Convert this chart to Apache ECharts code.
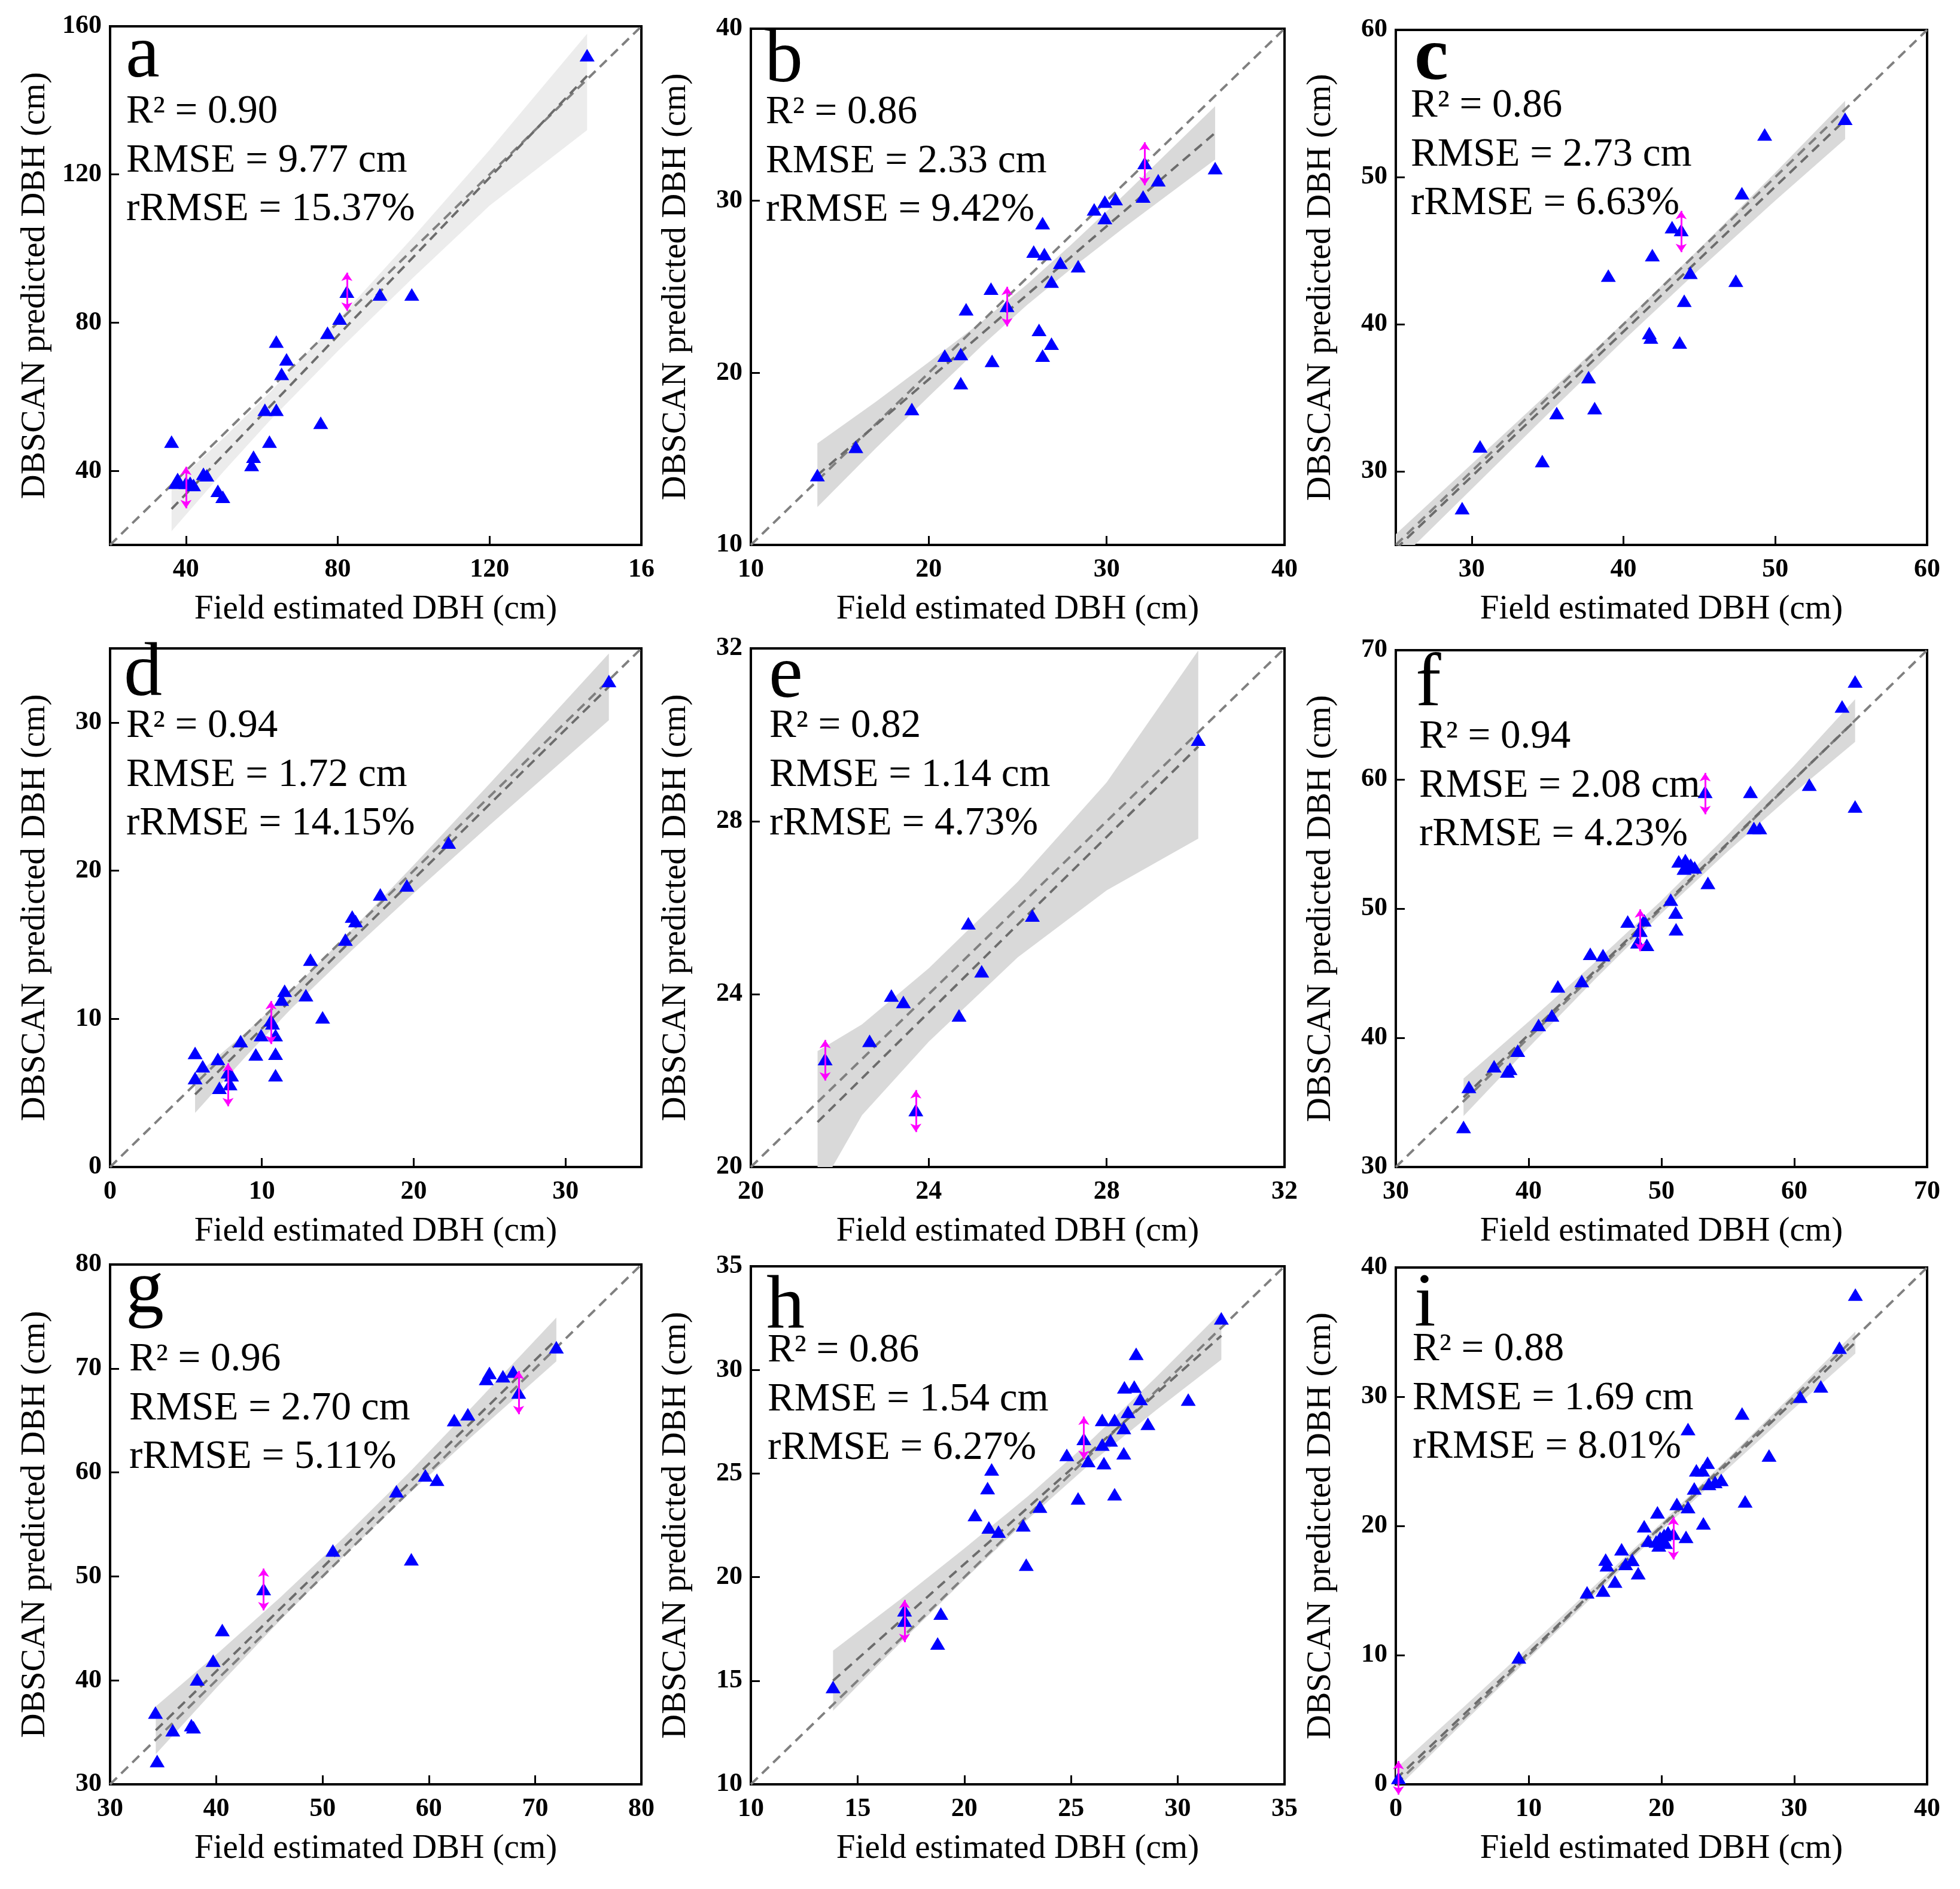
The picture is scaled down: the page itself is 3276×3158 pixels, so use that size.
<!DOCTYPE html>
<html><head><meta charset="utf-8">
<script src="https://cdn.jsdelivr.net/npm/echarts@6/dist/echarts.min.js"></script>
<style>html,body{margin:0;padding:0;background:#fff}#c{width:3276px;height:3158px}</style>
</head><body><div id="c"></div>
<script>
// ---------------- DATA ----------------
// panel a
const aRange = [20, 160], aTicks = [40, 80, 120, 160];
const aX = [145.7, 82.4, 91.1, 99.5, 80.5, 77.3, 63.8, 66.5, 65.2, 60.8, 63.8, 75.5, 36.2, 62.0, 57.8, 57.3, 44.6, 45.5, 37.8, 37.3, 40.0, 41.1, 42.0, 48.4, 49.7];
const aY = [152.2, 88.4, 87.6, 87.6, 81.1, 77.3, 74.9, 70.1, 66.2, 56.5, 56.5, 53.0, 47.9, 47.9, 43.8, 41.6, 39.2, 38.8, 37.8, 36.8, 36.8, 36.8, 36.2, 34.6, 33.0];
const aArrows = [[40.0, 41.1, 29.9], [82.4, 93.5, 83.2]];
const aBandX = [36.2, 50, 62, 80, 100, 120, 145.7];
const aBandLo = [23.7, 39.95, 53.45, 72.3, 92.3, 111.6, 132.0];
const aBandHi = [35.7, 48.95, 61.05, 80.7, 103.3, 126.6, 158.0];
const aFit = [[36.2, 29.7], [145.7, 146.6]];
const aStats = ['R\u00b2 = 0.90', 'RMSE = 9.77 cm', 'rRMSE = 15.37%'];
// panel b
const bRange = [10, 40], bTicks = [10, 20, 30, 40];
const bX = [13.74, 15.9, 19.05, 21.8, 20.9, 21.8, 22.1, 23.56, 23.5, 24.4, 26.2, 26.9, 26.4, 26.4, 25.9, 26.5, 27.4, 26.9, 28.4, 29.3, 29.9, 30.5, 29.9, 32.05, 32.14, 32.9, 36.1];
const bY = [14.06, 15.7, 17.9, 19.4, 21.0, 21.1, 23.7, 20.7, 24.9, 23.9, 22.5, 21.7, 21.0, 28.7, 27.05, 26.9, 26.4, 25.3, 26.2, 29.5, 29.95, 30.1, 29.0, 30.25, 32.2, 31.2, 31.9];
const bArrows = [[24.4, 25.0, 22.7], [32.14, 33.4, 30.9]];
const bBandX = [13.74, 17, 20, 23, 25.5, 28, 31, 36.1];
const bBandLo = [12.2, 15.6, 18.62, 21.59, 23.92, 26.04, 28.46, 32.4];
const bBandHi = [15.9, 18.3, 20.62, 22.99, 25.12, 27.44, 30.36, 35.5];
const bFit = [[13.74, 14.05], [36.1, 33.95]];
const bStats = ['R\u00b2 = 0.86', 'RMSE = 2.33 cm', 'rRMSE = 9.42%'];
// panel c
const cRange = [25, 60], cTicks = [30, 40, 50, 60];
const cX = [29.37, 30.55, 34.65, 35.6, 38.1, 37.7, 39.0, 41.7, 41.8, 41.9, 43.2, 43.8, 44.4, 44.0, 43.7, 47.4, 47.8, 49.3, 54.6];
const cY = [27.5, 31.7, 30.7, 33.96, 34.3, 36.4, 43.3, 39.4, 39.1, 44.7, 46.6, 46.4, 43.5, 41.6, 38.76, 42.96, 48.9, 52.9, 53.96];
const cArrows = [[43.8, 47.7, 44.9]];
const cBandX = [25, 30, 35, 40, 45, 50, 54.6];
const cBandLo = [23.73, 28.8, 33.88, 38.9, 43.73, 48.4, 52.58];
const cBandHi = [25.73, 30.5, 35.28, 40.1, 45.13, 50.3, 55.18];
const cFit = [[25, 24.73], [54.6, 53.88]];
const cStats = ['R\u00b2 = 0.86', 'RMSE = 2.73 cm', 'rRMSE = 6.63%'];
// panel d
const dRange = [0, 35], dTicks = [0, 10, 20, 30];
const dX = [32.86, 22.3, 19.55, 17.8, 15.95, 16.17, 15.5, 13.2, 12.9, 14.0, 11.5, 11.3, 10.7, 9.95, 10.9, 10.6, 8.6, 9.6, 10.9, 10.9, 5.6, 6.1, 5.6, 7.1, 7.2, 8.0, 7.9, 7.77];
const dY = [32.8, 21.9, 19.0, 18.4, 16.9, 16.6, 15.35, 14.0, 11.6, 10.1, 11.9, 11.3, 9.7, 8.9, 8.9, 9.9, 8.5, 7.6, 7.65, 6.2, 7.7, 6.8, 6.0, 7.3, 5.35, 6.2, 5.6, 6.4];
const dArrows = [[10.6, 11.2, 8.3], [7.77, 7.0, 4.1]];
const dBandX = [5.6, 9, 12, 16, 20, 25, 32.86];
const dBandLo = [3.65, 7.53, 10.76, 14.69, 18.48, 23.07, 30.16];
const dBandHi = [6.15, 9.13, 11.96, 16.09, 20.38, 25.87, 34.66];
const dFit = [[5.6, 4.9], [32.86, 32.41]];
const dStats = ['R\u00b2 = 0.94', 'RMSE = 1.72 cm', 'rRMSE = 14.15%'];
// panel e
const eRange = [20, 32], eTicks = [20, 24, 28, 32];
const eX = [30.06, 26.33, 24.89, 25.19, 23.16, 23.43, 24.68, 22.67, 21.67, 23.71];
const eY = [29.89, 25.82, 25.64, 24.53, 23.97, 23.82, 23.51, 22.92, 22.5, 21.32];
const eArrows = [[21.67, 22.94, 22.0], [23.71, 21.78, 20.81]];
const eBandX = [21.5, 22.5, 24, 26, 28, 30.06];
const eBandLo = [19.4, 21.2, 22.9, 24.85, 26.4, 27.6];
const eBandHi = [22.68, 23.3, 24.6, 26.6, 28.9, 31.95];
const eFit = [[21.5, 21.04], [30.06, 29.73]];
const eStats = ['R\u00b2 = 0.82', 'RMSE = 1.14 cm', 'rRMSE = 4.73%'];
// panel f
const fRange = [30, 70], fTicks = [30, 40, 50, 60, 70];
const fX = [64.58, 63.6, 64.58, 61.13, 56.7, 53.29, 56.96, 57.4, 51.3, 51.8, 52.2, 51.7, 52.5, 53.5, 50.7, 51.07, 51.1, 47.46, 48.34, 48.7, 48.2, 48.9, 48.4, 44.64, 45.6, 44.0, 42.2, 41.75, 40.75, 39.18, 37.4, 38.6, 38.4, 35.5, 35.1];
const fY = [67.58, 65.65, 57.9, 59.6, 59.04, 59.04, 56.24, 56.24, 53.66, 53.76, 53.4, 53.1, 53.2, 51.99, 50.7, 49.7, 48.4, 49.0, 48.3, 49.1, 47.4, 47.2, 48.3, 46.5, 46.4, 44.4, 43.98, 41.74, 41.0, 39.0, 37.8, 37.6, 37.4, 36.2, 33.1];
const fArrows = [[53.29, 60.5, 57.3], [48.4, 49.94, 46.7]];
const fBandX = [35.1, 40, 45, 50, 55, 60, 64.58];
const fBandLo = [33.95, 39.25, 44.54, 49.63, 54.43, 58.97, 62.9];
const fBandHi = [36.85, 41.25, 45.84, 50.63, 55.73, 61.07, 66.2];
const fFit = [[35.1, 35.4], [64.58, 64.55]];
const fStats = ['R\u00b2 = 0.94', 'RMSE = 2.08 cm', 'rRMSE = 4.23%'];
// panel g
const gRange = [30, 80], gTicks = [30, 40, 50, 60, 70, 80];
const gX = [72.0, 65.7, 65.4, 66.97, 67.94, 68.45, 63.67, 62.39, 59.67, 60.76, 56.95, 50.97, 58.35, 44.45, 40.56, 39.7, 38.2, 37.65, 37.85, 35.9, 34.27, 34.43];
const gY = [72.05, 69.57, 69.0, 69.25, 69.7, 67.68, 65.6, 65.04, 59.72, 59.3, 58.2, 52.5, 51.65, 48.78, 44.84, 41.9, 40.1, 35.7, 35.5, 35.2, 36.9, 32.24];
const gArrows = [[68.45, 69.76, 65.6], [44.45, 50.75, 46.73]];
const gBandX = [34.3, 40, 46, 52, 58, 64, 72];
const gBandLo = [32.9, 39.28, 45.77, 51.95, 57.84, 63.42, 70.7];
const gBandHi = [37.5, 42.48, 47.97, 53.75, 59.84, 66.22, 74.9];
const gFit = [[34.3, 35.2], [72, 72.8]];
const gStats = ['R\u00b2 = 0.96', 'RMSE = 2.70 cm', 'rRMSE = 5.11%'];
// panel h
const hRange = [10, 35], hTicks = [10, 15, 20, 25, 30, 35];
const hX = [32.04, 28.05, 27.5, 27.96, 28.25, 30.49, 27.67, 26.46, 27.04, 27.47, 28.6, 26.46, 26.85, 25.6, 25.8, 24.8, 27.47, 26.54, 25.33, 27.04, 23.54, 21.28, 21.09, 20.5, 21.15, 21.6, 22.76, 22.9, 18.9, 18.75, 17.2, 17.2, 13.85];
const hY = [32.49, 30.78, 29.16, 29.2, 28.6, 28.57, 27.98, 27.59, 27.59, 27.2, 27.4, 26.4, 26.6, 26.67, 25.6, 25.9, 25.98, 25.5, 23.8, 24.0, 23.4, 25.2, 24.3, 23.0, 22.4, 22.2, 22.5, 20.6, 18.24, 16.8, 18.4, 17.9, 14.7];
const hArrows = [[25.6, 27.75, 25.7], [17.2, 18.9, 16.86]];
const hBandX = [13.85, 17, 20, 23, 26, 29, 32.04];
const hBandLo = [13.55, 16.83, 19.88, 22.82, 25.57, 28.07, 30.5];
const hBandHi = [16.45, 18.93, 21.38, 23.92, 26.67, 29.67, 32.8];
const hFit = [[13.85, 15.0], [32.04, 31.65]];
const hStats = ['R\u00b2 = 0.86', 'RMSE = 1.54 cm', 'rRMSE = 6.27%'];
// panel i
const iRange = [0, 40], iTicks = [0, 10, 20, 30, 40];
const iX = [34.6, 33.4, 32.0, 30.45, 26.07, 22.0, 28.1, 23.47, 22.63, 23.1, 22.47, 23.57, 24.5, 24.04, 26.3, 21.16, 22.0, 19.7, 23.16, 18.7, 20.9, 21.85, 19.0, 19.6, 19.9, 20.2, 20.5, 19.8, 20.3, 17.0, 15.8, 15.9, 17.8, 17.3, 18.25, 16.5, 14.4, 15.6, 9.26, 0.2];
const iY = [37.9, 33.8, 30.8, 30.0, 28.7, 27.5, 25.45, 24.9, 24.3, 24.3, 22.9, 23.25, 23.56, 23.4, 21.9, 21.7, 21.46, 21.05, 20.2, 19.98, 19.4, 19.16, 18.85, 18.8, 19.1, 19.3, 19.5, 18.5, 18.7, 18.2, 17.4, 16.96, 17.37, 17.06, 16.34, 15.7, 14.86, 15.0, 9.83, 0.5];
const iArrows = [[20.9, 20.7, 17.4], [0.2, 1.8, -0.8]];
const iBandX = [0, 5, 10, 15, 20, 25, 30, 34.6];
const iBandLo = [-0.4, 4.68, 9.72, 14.7, 19.64, 24.42, 29.11, 33.35];
const iBandHi = [1.2, 5.88, 10.62, 15.4, 20.24, 25.22, 30.31, 35.05];
const iFit = [[0, 0.4], [34.6, 34.2]];
const iStats = ['R\u00b2 = 0.88', 'RMSE = 1.69 cm', 'rRMSE = 8.01%'];

const panelLetters = ['a', 'b', 'c', 'd', 'e', 'f', 'g', 'h', 'i'];
const xAxisTitle = 'Field estimated DBH (cm)';
const yAxisTitle = 'DBSCAN predicted DBH (cm)';

const panels = [
  {range: aRange, ticks: aTicks, x: aX, y: aY, arrows: aArrows, bx: aBandX, lo: aBandLo, hi: aBandHi, fit: aFit, stats: aStats},
  {range: bRange, ticks: bTicks, x: bX, y: bY, arrows: bArrows, bx: bBandX, lo: bBandLo, hi: bBandHi, fit: bFit, stats: bStats},
  {range: cRange, ticks: cTicks, x: cX, y: cY, arrows: cArrows, bx: cBandX, lo: cBandLo, hi: cBandHi, fit: cFit, stats: cStats},
  {range: dRange, ticks: dTicks, x: dX, y: dY, arrows: dArrows, bx: dBandX, lo: dBandLo, hi: dBandHi, fit: dFit, stats: dStats},
  {range: eRange, ticks: eTicks, x: eX, y: eY, arrows: eArrows, bx: eBandX, lo: eBandLo, hi: eBandHi, fit: eFit, stats: eStats},
  {range: fRange, ticks: fTicks, x: fX, y: fY, arrows: fArrows, bx: fBandX, lo: fBandLo, hi: fBandHi, fit: fFit, stats: fStats},
  {range: gRange, ticks: gTicks, x: gX, y: gY, arrows: gArrows, bx: gBandX, lo: gBandLo, hi: gBandHi, fit: gFit, stats: gStats},
  {range: hRange, ticks: hTicks, x: hX, y: hY, arrows: hArrows, bx: hBandX, lo: hBandLo, hi: hBandHi, fit: hFit, stats: hStats},
  {range: iRange, ticks: iTicks, x: iX, y: iY, arrows: iArrows, bx: iBandX, lo: iBandLo, hi: iBandHi, fit: iFit, stats: iStats}
];

// ---------------- LAYOUT (pixels) ----------------
const layout = [
  {grid: [184, 44, 888, 867],   letter: [210, 133],   stat: [211, 208],   band: '#ececec', bold: false},
  {grid: [1255, 48, 892, 863],  letter: [1278, 141],  stat: [1280, 209],  band: '#d9d9d9', bold: false},
  {grid: [2333, 50, 888, 861],  letter: [2364, 138],  stat: [2358, 198],  band: '#d9d9d9', bold: true},
  {grid: [184, 1084, 888, 867], letter: [207, 1167],  stat: [211, 1235],  band: '#d9d9d9', bold: false},
  {grid: [1255, 1084, 892, 867],letter: [1285, 1170], stat: [1286, 1235], band: '#d9d9d9', bold: false},
  {grid: [2333, 1087, 888, 864],letter: [2366, 1184], stat: [2372, 1253], band: '#d9d9d9', bold: false},
  {grid: [184, 2114, 888, 869], letter: [210, 2199],  stat: [216, 2294],  band: '#d9d9d9', bold: false},
  {grid: [1255, 2117, 892, 866],letter: [1281, 2225], stat: [1283, 2279], band: '#d9d9d9', bold: false},
  {grid: [2333, 2119, 888, 864],letter: [2364, 2221], stat: [2361, 2277], band: '#dcdcdc', bold: false}
];
const SERIF = '"Liberation Serif", "Times New Roman", serif';
const MID = 0.305; // baseline offset from 'middle' alignment, in em

const option = {animation: false, backgroundColor: '#fff', grid: [], xAxis: [], yAxis: [], series: [], graphic: []};

panels.forEach((p, i) => {
  const L = layout[i];
  option.grid.push({left: L.grid[0], top: L.grid[1], width: L.grid[2], height: L.grid[3],
    show: true, borderColor: '#000', borderWidth: 4, backgroundColor: 'transparent',
    containLabel: false, outerBoundsMode: 'none'});
  const mkAxis = (isX) => ({
    type: 'value', gridIndex: i, min: p.range[0], max: p.range[1],
    axisLine: {show: true, onZero: false, lineStyle: {color: '#000', width: 4}},
    axisTick: {show: true, inside: true, length: 15, customValues: p.ticks, lineStyle: {color: '#000', width: 3}},
    axisLabel: {show: true, customValues: p.ticks, fontFamily: SERIF, fontWeight: 'bold', fontSize: 44, color: '#000',
      margin: isX ? 20 : 14, showMinLabel: true, showMaxLabel: true, hideOverlap: false,
      formatter: (v) => (isX && i === 0 && v === 160) ? '16' : String(v)},
    splitLine: {show: false},
    name: isX ? xAxisTitle : yAxisTitle, nameLocation: 'middle', nameGap: isX ? 80 : 96, nameMoveOverlap: false,
    nameTextStyle: {fontFamily: SERIF, fontSize: 57, color: '#000'}
  });
  option.xAxis.push(mkAxis(true));
  option.yAxis.push(mkAxis(false));

  // confidence band
  const bandData = p.bx.map((x, k) => [x, p.lo[k], p.hi[k]]);
  option.series.push({
    type: 'custom', xAxisIndex: i, yAxisIndex: i, clip: true, silent: true, z: 1,
    data: bandData, encode: {x: 0, y: 1},
    renderItem: (params, api) => {
      if (params.dataIndex !== 0) return null;
      const pts = [];
      for (let k = 0; k < p.bx.length; k++) pts.push(api.coord([p.bx[k], p.hi[k]]));
      for (let k = p.bx.length - 1; k >= 0; k--) pts.push(api.coord([p.bx[k], p.lo[k]]));
      return {type: 'polygon', shape: {points: pts}, style: {fill: L.band}};
    }
  });
  // 1:1 line
  option.series.push({type: 'line', xAxisIndex: i, yAxisIndex: i, z: 2, silent: true, showSymbol: false, symbol: 'none',
    data: [[p.range[0], p.range[0]], [p.range[1], p.range[1]]],
    lineStyle: {color: '#808080', width: 4, type: [16, 10]}});
  // fitted line
  option.series.push({type: 'line', xAxisIndex: i, yAxisIndex: i, z: 3, silent: true, showSymbol: false, symbol: 'none',
    data: p.fit, lineStyle: {color: '#6c6c6c', width: 4, type: [16, 10]}});
  // points
  option.series.push({type: 'scatter', xAxisIndex: i, yAxisIndex: i, z: 4, symbol: 'triangle', symbolSize: [25, 21],
    data: p.x.map((x, k) => [x, p.y[k]]), itemStyle: {color: '#0000ff', opacity: 1}});
  // magenta double arrows
  option.series.push({type: 'lines', coordinateSystem: 'cartesian2d', xAxisIndex: i, yAxisIndex: i, z: 5, clip: false,
    symbol: ['arrow', 'arrow'], symbolSize: 14,
    data: p.arrows.map(a => ({coords: [[a[0], a[1]], [a[0], a[2]]]})),
    lineStyle: {color: '#ff00ff', width: 3, opacity: 1, curveness: 0}});

  // annotations
  const LFS = 128, SFS = 67;
  option.graphic.push({type: 'text', x: L.letter[0], y: L.letter[1] - MID * LFS, z: 10,
    style: {text: panelLetters[i], font: (L.bold ? 'bold ' : '') + LFS + 'px ' + SERIF, fill: '#000', verticalAlign: 'middle', align: 'left'}});
  p.stats.forEach((s, k) => {
    option.graphic.push({type: 'text', x: L.stat[0], y: L.stat[1] + k * 81.5 - MID * SFS, z: 10,
      style: {text: s, font: SFS + 'px ' + SERIF, fill: '#000', verticalAlign: 'middle', align: 'left'}});
  });
});

const chart = echarts.init(document.getElementById('c'), null, {renderer: 'canvas'});
chart.setOption(option);
</script>
</body></html>
